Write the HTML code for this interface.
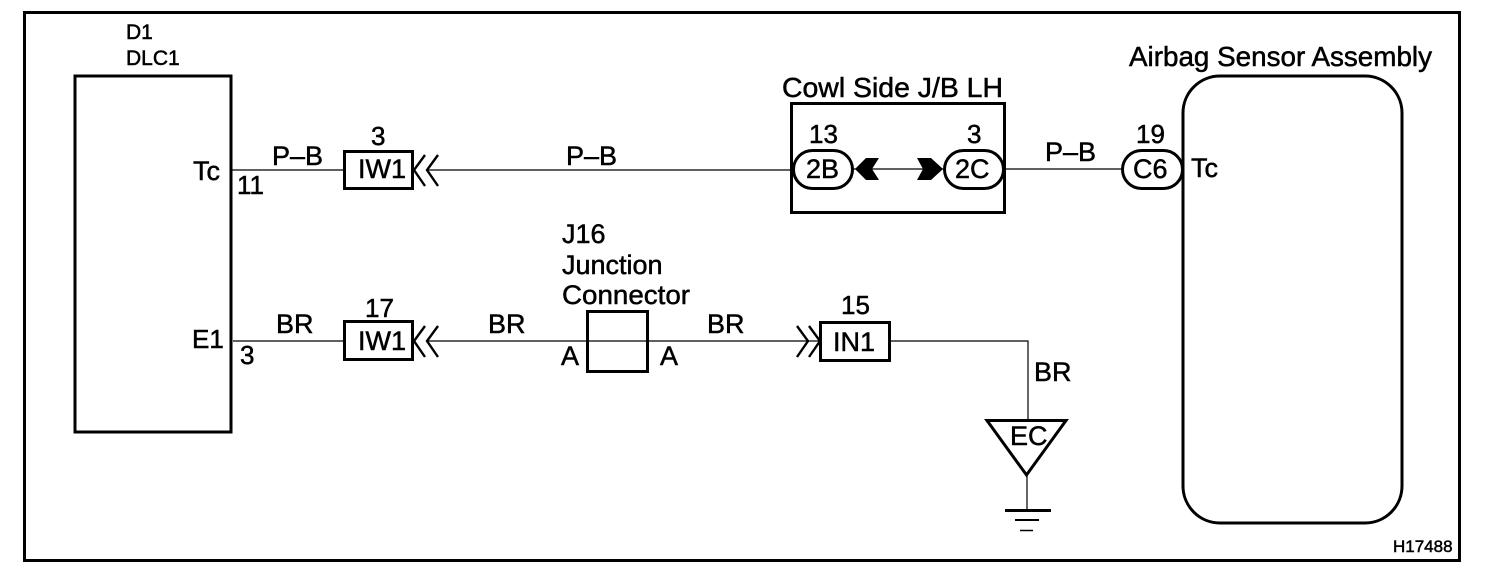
<!DOCTYPE html>
<html>
<head>
<meta charset="utf-8">
<style>
html,body{margin:0;padding:0;background:#fff;width:1504px;height:578px;overflow:hidden}
svg{display:block}
text{font-family:"Liberation Sans",sans-serif;fill:#000;stroke:#000;stroke-width:.5px}
</style>
</head>
<body>
<svg width="1504" height="578" viewBox="0 0 1504 578" xmlns="http://www.w3.org/2000/svg">
<g fill="none" stroke="#000" stroke-width="3">
<rect x="24.5" y="12.5" width="1435" height="548"/>
<rect x="75" y="76" width="156" height="356"/>
<rect x="344.5" y="151.5" width="68" height="37"/>
<rect x="344.5" y="321.5" width="68" height="38"/>
<rect x="791.5" y="103.5" width="213" height="109"/>
<rect x="793.5" y="150.5" width="59" height="38" rx="19" ry="19" fill="#fff"/>
<rect x="944.5" y="150.5" width="59" height="38" rx="19" ry="19" fill="#fff"/>
<rect x="1122.5" y="150.5" width="60" height="38" rx="19" ry="19" fill="#fff"/>
<rect x="1183" y="76" width="219" height="447" rx="37" ry="37"/>
<rect x="587.5" y="311.5" width="60" height="60"/>
<rect x="820.5" y="322.5" width="69" height="38"/>
<path d="M987 420.500H1066L1026.500 475Z"/>
</g>
<g fill="none" stroke="#000" stroke-width="1.2">
<path d="M232 170H344"/>
<path d="M428 170H793"/>
<path d="M853 169H944"/>
<path d="M1004 169H1122"/>
<path d="M233 341H344"/>
<path d="M428 341H820"/>
<path d="M890 341H1028V420"/>
<path d="M1027 475V510"/>
</g>
<g fill="none" stroke="#000" stroke-width="2.4">
<path d="M425 155L414 170L425 186M438 155L427 170L438 186"/>
<path d="M425 326L414 341L425 357M438 326L427 341L438 357"/>
<path d="M797 326L808 341L797 357M809 326L820 341L809 357"/>
</g>
<path d="M855 169L866 158H879L872 169L879 180H866Z" fill="#000"/>
<path d="M917 158H931L943 169L931 180H917L923 169Z" fill="#000"/>
<path d="M1005 510.500H1051" stroke="#000" stroke-width="3"/>
<path d="M1015 520H1039" stroke="#000" stroke-width="2"/>
<path d="M1020 530.500H1033" stroke="#000" stroke-width="1.500"/>

<text x="126" y="39" font-size="21">D1</text>
<text x="126" y="65" font-size="21">DLC1</text>
<text x="193" y="180" font-size="27">Tc</text>
<text x="237" y="194" font-size="26">11</text>
<text x="272" y="165" font-size="27">P–B</text>
<text x="371" y="145" font-size="26">3</text>
<text x="358" y="178" font-size="27">IW1</text>
<text x="566" y="165" font-size="27">P–B</text>
<text x="782" y="97" font-size="27.500" textLength="221" lengthAdjust="spacingAndGlyphs">Cowl Side J/B LH</text>
<text x="809" y="143" font-size="26">13</text>
<text x="967" y="143" font-size="26">3</text>
<text x="806" y="178" font-size="27">2B</text>
<text x="955" y="178" font-size="27">2C</text>
<text x="1045" y="161" font-size="27">P–B</text>
<text x="1136" y="143" font-size="26">19</text>
<text x="1133" y="178" font-size="27">C6</text>
<text x="1191" y="177" font-size="27">Tc</text>
<text x="1129" y="66" font-size="27.500" textLength="303" lengthAdjust="spacingAndGlyphs">Airbag Sensor Assembly</text>
<text x="192" y="348" font-size="26">E1</text>
<text x="240" y="364" font-size="26">3</text>
<text x="276" y="333" font-size="27">BR</text>
<text x="365" y="317" font-size="26">17</text>
<text x="358" y="350" font-size="27">IW1</text>
<text x="488" y="333" font-size="27">BR</text>
<text x="562" y="243" font-size="27">J16</text>
<text x="562" y="274" font-size="27">Junction</text>
<text x="562" y="304" font-size="27" textLength="128" lengthAdjust="spacingAndGlyphs">Connector</text>
<text x="561" y="365" font-size="27">A</text>
<text x="660" y="365" font-size="27">A</text>
<text x="707" y="333" font-size="27">BR</text>
<text x="841" y="314" font-size="26">15</text>
<text x="833" y="351" font-size="27">IN1</text>
<text x="1034" y="381" font-size="27">BR</text>
<text x="1010" y="445" font-size="27">EC</text>
<text x="1393" y="552" font-size="17">H17488</text>
</svg>
</body>
</html>
